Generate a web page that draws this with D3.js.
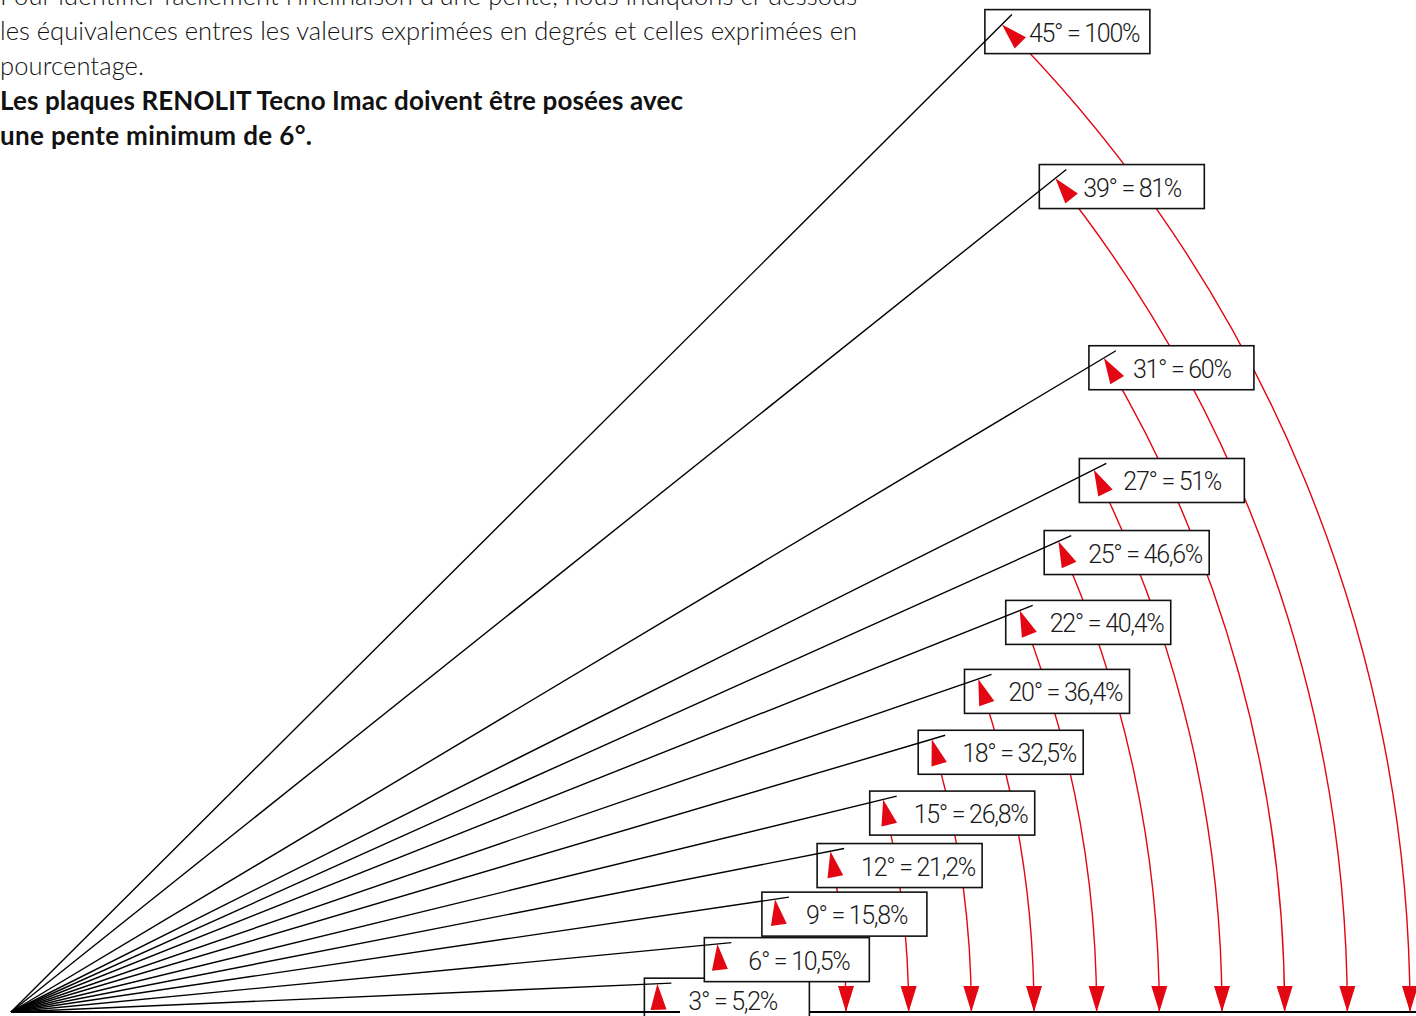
<!DOCTYPE html>
<html lang="fr">
<head>
<meta charset="utf-8">
<title>Pente : degrés et pourcentage</title>
<script src="https://d3js.org/d3.v7.min.js"></script>
<style>
body { margin: 0; background: #fff; }
</style>
</head>
<body>
<script>
var degres = [3, 6, 9, 12, 15, 18, 20, 22, 25, 27, 31, 39, 45];
var pourcents = ["5,2", "10,5", "15,8", "21,2", "26,8", "32,5", "36,4", "40,4", "46,6", "51", "60", "81", "100"];
// angle réellement tracé sur le dessin (un peu plus faible que l'étiquette)
var anglesTraces = [2.5, 5.5, 8.4, 11.1, 13.7, 16.5, 19, 21.7, 24.2, 26.6, 30.9, 38.6, 44.9];
var intro = [
  "Pour identifier facilement l’inclinaison d’une pente, nous indiquons ci-dessous",
  "les équivalences entres les valeurs exprimées en degrés et celles exprimées en",
  "pourcentage."
];
var introGras = [
  "Les plaques RENOLIT Tecno Imac doivent être posées avec",
  "une pente minimum de 6°."
];

var w = 1416, h = 1016;
var ox = 11, oy = 1012;
var rouge = "#e30613";

var svg = d3.select("body").append("svg")
  .attr("width", w)
  .attr("height", h)
  .style("display", "block");

// rayon de chaque arc : pas régulier sur la ligne de base
var rayon = d3.scaleLinear().domain([0, degres.length - 1]).range([647, 1399]);
var angle = d3.scaleLinear().domain([0, 90]).range([0, Math.PI / 2]);

function pt(r, a) {
  return [ox + r * Math.cos(a), oy - r * Math.sin(a)];
}

var data = degres.map(function (d, i) {
  var a = angle(anglesTraces[i]);
  var r = rayon(i);
  return {
    deg: d, pct: pourcents[i], a: a, r: r,
    tip: pt(r, a), base: pt(r, 0), fin: pt(r + 14, a),
    label: d + "° = " + pourcents[i] + "%"
  };
});

// flèche : pointe en (0,0), dirigée vers +x
var fleche = "M0,0 L-26,-8 L-26,8 Z";

// arcs rouges
svg.append("g").selectAll("path")
  .data(data)
  .enter().append("path")
  .attr("d", function (d) {
    var p = d3.path();
    p.moveTo(d.base[0], d.base[1]);
    p.arc(ox, oy, d.r, 0, -d.a, true);
    return p.toString();
  })
  .attr("fill", "none")
  .attr("stroke", rouge)
  .attr("stroke-width", 1.4);

// ligne de base
svg.append("line")
  .attr("x1", ox).attr("y1", oy)
  .attr("x2", w).attr("y2", oy)
  .attr("stroke", "#000")
  .attr("stroke-width", 1.8);

// flèches vers le bas sur la ligne de base
svg.append("g").selectAll("path")
  .data(data)
  .enter().append("path")
  .attr("d", fleche)
  .attr("transform", function (d) {
    return "translate(" + d.base[0] + "," + d.base[1] + ") rotate(90)";
  })
  .attr("fill", rouge);

// cadres des étiquettes, calés sur le bout du rayon
var cadres = svg.append("g").selectAll("g")
  .data(data)
  .enter().append("g")
  .attr("transform", function (d) {
    return "translate(" + (d.fin[0] - 27) + "," + (d.fin[1] - 5) + ")";
  });

cadres.append("rect")
  .attr("width", 165)
  .attr("height", 44)
  .attr("fill", "#fff")
  .attr("stroke", "#111")
  .attr("stroke-width", 1.6);

// rayons noirs
svg.append("g").selectAll("line")
  .data(data)
  .enter().append("line")
  .attr("x1", ox).attr("y1", oy)
  .attr("x2", function (d) { return d.fin[0]; })
  .attr("y2", function (d) { return d.fin[1]; })
  .attr("stroke", "#000")
  .attr("stroke-width", 1.4);

// rayon à 0°
svg.append("line")
  .attr("x1", ox).attr("y1", oy)
  .attr("x2", rayon(0) + ox + 22).attr("y2", oy)
  .attr("stroke", "#000")
  .attr("stroke-width", 1.8);

// flèches à l'extrémité des arcs
svg.append("g").selectAll("path")
  .data(data)
  .enter().append("path")
  .attr("d", fleche)
  .attr("transform", function (d) {
    var rot = Math.atan2(-Math.cos(d.a), -Math.sin(d.a)) * 180 / Math.PI;
    return "translate(" + d.tip[0] + "," + d.tip[1] + ") rotate(" + rot + ")";
  })
  .attr("fill", rouge);

// textes des étiquettes
cadres.append("text")
  .attr("x", 44)
  .attr("y", 32)
  .attr("font-family", "Roboto, 'Liberation Sans', sans-serif")
  .attr("font-weight", 300)
  .attr("font-size", 25)
  .attr("letter-spacing", -1.3)
  .attr("fill", "#1a1a1a")
  .text(function (d) { return d.label; });

// texte d'introduction
var lignes = intro.map(function (t) { return { t: t, gras: false }; })
  .concat(introGras.map(function (t) { return { t: t, gras: true }; }));
var largeurs = [857, 857, 144, 683, 312];

svg.append("g").selectAll("text")
  .data(lignes)
  .enter().append("text")
  .attr("x", 0)
  .attr("y", function (d, i) { return 5 + i * 35; })
  .attr("font-family", "Lato, 'Open Sans', sans-serif")
  .attr("font-weight", function (d) { return d.gras ? 700 : 300; })
  .attr("font-size", function (d) { return d.gras ? 26 : 25.5; })
  .attr("textLength", function (d, i) { return largeurs[i]; })
  .attr("lengthAdjust", "spacing")
  .attr("fill", "#111")
  .text(function (d) { return d.t; });
</script>
</body>
</html>
